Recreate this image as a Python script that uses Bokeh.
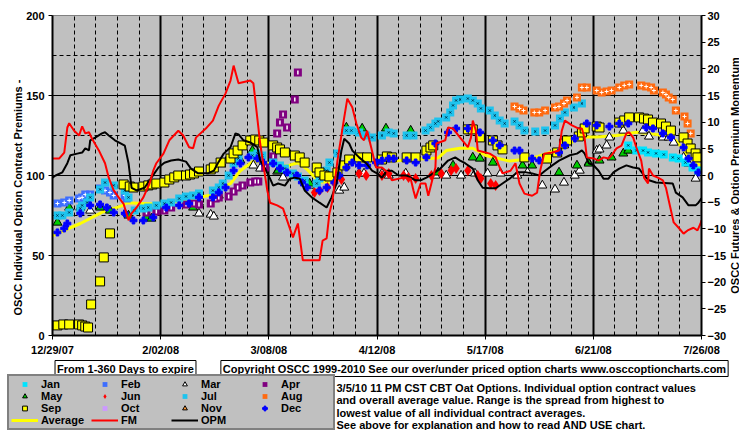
import math
from bokeh.plotting import figure
from bokeh.models import Range1d, LinearAxis, FixedTicker, Legend, LegendItem, Label, ColumnDataSource
from bokeh.layouts import row
from bokeh.embed import file_html
from bokeh.resources import INLINE

# ---------------- data (x = days from 12/29/07) ----------------
date_ticks = [0, 35, 70, 105, 140, 175, 210]
date_labels = ["12/29/07", "2/02/08", "3/08/08", "4/12/08", "5/17/08", "6/21/08", "7/26/08"]
week_ticks = [7, 14, 21, 28, 42, 49, 56, 63, 77, 84, 91, 98, 112, 119, 126, 133,
              147, 154, 161, 168, 182, 189, 196, 203]
prem_ticks = [0, 50, 100, 150, 200]
prem_minor = [25, 75, 125, 175]
mom_ticks = [-30, -25, -20, -15, -10, -5, 0, 5, 10, 15, 20, 25, 30]

jan_day = [186.3, 188.9, 191.1, 192.7, 195.3, 197.8, 200.7, 202.6, 204.8, 207.1, 209.0]
jan_val = [118.8, 115.6, 115.6, 114.4, 113.8, 113.1, 111.3, 110.6, 108.1, 105, 103.1]

feb_day = [1.6, 3.8, 5.4, 8.6, 9.6, 10.6, 12.2, 15.4, 17.0, 18.6, 19.8, 23.4, 24.0]
feb_val = [82.5, 83.1, 84.4, 85.6, 86.3, 88.1, 88.1, 91.9, 90.6, 89.4, 87.5, 87.5, 85.6]

mar_day = [12.2, 47.4, 51.2, 52.2, 65.0, 67.2, 72.7, 74.6, 83.2, 92.8, 94.4, 99.2, 100.8, 106.6, 108.8,
           114.3, 123.9, 127.4, 132.2, 136.7, 140.8, 145.0, 150.4, 153.7, 158.5, 162.6, 165.5, 169.0,
           170.6, 173.5, 176.1, 177.0, 179.3, 180.2, 184.7, 191.1, 193.0, 197.5, 199.4, 201.0, 204.2,
           205.8, 208.1]
mar_val = [78.1, 76.3, 75.6, 74.4, 106.3, 104.4, 102.5, 98.8, 93.8, 90.6, 92.5, 101.3, 101.3, 101.3, 100,
           101.3, 100, 100, 100, 101.3, 101.3, 101.3, 100, 101.9, 93.8, 91.3, 95.6, 100,
           103.1, 108.1, 115.6, 116.3, 118.8, 123.8, 128.1, 128.1, 124.4, 123.8, 123.8, 120.6, 111.3,
           107.5, 98.1]

apr_day = [30.4, 33.6, 36.2, 38.4, 43.2, 45.8, 47.4, 51.2, 52.8, 53.8, 57.0, 58.6, 59.9, 61.5, 64.0,
           65.6, 66.6, 68.8, 71.4, 72.7, 73.6, 74.6, 75.9, 78.4, 79.4]
apr_val = [76.9, 77.5, 78.1, 80, 81.9, 82.5, 81.9, 82.5, 85.6, 86.3, 86.9, 90, 92.5, 93.8, 95.6,
           96.3, 96.3, 105, 111.9, 126.3, 133.1, 138.1, 130, 147.5, 164.4]

may_day = [1.6, 5.4, 9.0, 15.4, 18.6, 24.6, 30.4, 32.0, 45.5, 47.4, 53.8, 60.8, 64.7, 73.0, 83.2,
           95.1, 100.2, 107.9, 115.9, 124.8, 129.6, 136.0, 138.3, 142.5, 152.1, 155.2, 163.9, 169.7,
           173.5, 177.0, 180.9, 184.7, 186.3]
may_val = [70.6, 80, 80, 80, 78.1, 75, 73.8, 73.1, 80, 83.1, 87.5, 109.4, 115.6, 103.1, 95,
           130, 129.4, 129.4, 128.1, 101.9, 106.3, 111.3, 110.6, 108.1, 106.3, 106.3, 101.9, 106.3,
           107.5, 109.4, 111.3, 113.8, 115.6]

jun_day = [84.8, 86.4, 89.0, 91.2, 93.5, 99.2, 101.5, 106.6, 108.8, 113.6, 115.2, 117.5, 122.6, 125.8,
           129.0, 130.6, 134.4, 137.6, 138.6, 141.8, 143.4]
jun_val = [89.4, 90.6, 92.5, 95.6, 97.5, 101.3, 100, 100, 101.3, 100, 98.8, 98.1, 100, 101.3,
           103.1, 104.4, 103.1, 100, 98.1, 95, 93.8]

jul_day = [1.6, 3.2, 5.4, 9.0, 9.6, 11.2, 12.2, 15.4, 17.0, 19.8, 23.4, 24.6, 26.6, 29.4, 31.0,
           33.6, 36.2, 38.4, 41.0, 43.2, 45.5, 47.4, 51.9, 53.8, 55.1, 57.0, 58.6, 60.2, 64.7, 66.3,
           67.9, 71.4, 73.6, 75.2, 77.8, 79.4, 81.6, 85.5, 86.4, 88.7, 89.6, 92.2, 95.1, 96.7, 99.2,
           101.5, 103.4, 106.6, 108.8, 110.4, 114.6, 116.8, 120.7, 122.3, 123.9, 124.8, 127.4, 128.7,
           129.6, 130.6, 131.9, 134.4, 136.0, 137.6, 138.6, 141.5, 143.1, 144.7, 146.3, 149.5, 151.1,
           152.7, 156.2, 159.4, 162.6, 164.2, 165.8, 168.7, 171.3]
jul_val = [75, 75, 76.9, 79.4, 81.3, 83.1, 86.3, 91.3, 95.6, 93.8, 90.6, 86.3, 78.1, 79.4, 80,
           81.3, 82.5, 83.1, 85.6, 86.9, 87.5, 88.8, 90.6, 92.5, 95, 100, 107.5, 110.6, 112.5, 113.8,
           112.5, 108.1, 106.3, 104.4, 101.3, 99.4, 96.9, 95, 98.1, 103.1, 108.1, 113.8, 128.1, 128.1,
           126.9, 125, 123.8, 125, 126.9, 126.3, 125, 125, 128.1, 130, 132.5, 133.8, 136.3, 139.4,
           143.8, 146.9, 147.5, 148.1, 146.9, 145, 141.9, 140.6, 137.5, 134.4, 132.5, 133.8, 131.3,
           128.1, 127.5, 128.1, 131.3, 135.6, 139.4, 142.5, 145]

aug_day = [149.5, 151.1, 152.4, 155.9, 157.5, 159.4, 162.6, 163.9, 165.5, 166.5, 169.7, 171.3, 172.9,
           176.1, 177.7, 179.3, 180.9, 183.4, 185.0, 186.6, 190.5, 192.1, 193.7, 194.6, 197.5, 198.5,
           199.4, 200.7, 201.7, 204.5, 205.5, 206.5]
aug_val = [143.1, 141.9, 140.6, 139.4, 139.4, 140.6, 142.5, 143.1, 145, 146.9, 148.8, 155, 155,
           153.1, 151.9, 152.5, 153.1, 155, 156.3, 156.9, 156.3, 155.6, 155, 153.1, 151.9, 150.6,
           148.8, 147.5, 140.6, 136.9, 132.5, 126.3]

sep_day = [1.6, 3.5, 5.4, 8.6, 9.6, 10.6, 11.5, 12.5, 15.4, 16.6, 18.6, 23.0, 25.0, 26.2, 29.4,
           31.0, 32.3, 33.6, 36.2, 37.8, 39.4, 40.7, 43.2, 44.5, 45.8, 47.4, 51.2, 52.2, 54.4, 57.6,
           58.6, 59.9, 61.5, 64.0, 65.6, 66.9, 68.2, 71.4, 72.7, 73.6, 75.2, 78.4, 80.0, 81.6, 85.5,
           86.4, 88.0, 89.6, 92.2, 94.4, 96.0, 99.2, 101.8, 106.6, 108.2, 109.8, 114.6, 117.5, 121.0,
           122.3, 123.2, 134.4, 136.0, 138.3, 142.5, 144.0, 145.6, 152.7, 160.0, 163.3, 165.5, 166.5,
           170.3, 171.3, 172.2, 176.1, 177.0, 183.4, 185.0, 186.6, 189.8, 191.4, 192.7, 194.3, 196.9,
           198.5, 200.1, 204.2, 205.5, 206.5, 208.1, 208.7]
sep_val = [6.3, 6.9, 6.9, 6.9, 6.3, 5.6, 5, 19.4, 33.8, 48.8, 63.8, 94.4, 93.1, 92.5, 93.1,
           93.8, 94.4, 95, 95.6, 97.5, 98.8, 100, 100, 100.6, 101.3, 102.5, 103.8, 105, 108.1, 110.6,
           113.8, 115.6, 118.8, 121.9, 122.5, 121.9, 120.6, 118.8, 117.5, 116.3, 114.4, 112.5, 111.3,
           108.1, 105, 101.9, 100, 99.4, 101.9, 106.3, 110, 111.3, 111.3, 110, 111.9, 111.3, 111.3,
           111.3, 115.6, 117.5, 118.8, 128.8, 128.8, 123.8, 121.9, 118.8, 116.3, 111.3, 110.6, 114.4,
           120, 121.9, 124.4, 126.9, 129.4, 130.6, 130, 133.1, 134.4, 136.3, 136.3, 135.6, 135, 133.1,
           132.5, 130.6, 128.1, 123.8, 120, 116.9, 113.8, 111.3]

oct_day = []
oct_val = []
nov_day = []
nov_val = []

dec_day = [1.6, 3.8, 4.8, 9.0, 12.2, 15.4, 17.6, 19.8, 23.4, 26.2, 29.4, 32.6, 36.8, 41.0, 44.2,
           47.4, 51.9, 53.8, 56.0, 58.6, 60.8, 63.4, 66.3, 68.2, 71.4, 73.6, 75.9, 79.1, 80.7, 82.3,
           86.4, 88.7, 91.2, 92.8, 95.1, 97.0, 99.2, 101.8, 104.7, 106.6, 108.8, 110.4, 114.6, 117.5,
           121.0, 123.9, 128.0, 130.6, 134.4, 138.3, 142.5, 144.7, 149.5, 151.1, 155.2, 157.5, 163.9,
           165.8, 169.0, 172.9, 176.1, 180.2, 183.4, 186.3, 192.1, 194.3, 197.5, 200.1, 204.2, 205.8,
           207.4, 209.0]
dec_val = [64.4, 66.9, 70, 76.3, 81.3, 81.9, 80, 76.9, 76.3, 71.9, 71.9, 73.8, 80, 81.3, 82.5,
           86.3, 86.3, 89.4, 92.5, 103.1, 107.5, 111.3, 110.6, 108.1, 107.5, 104.4, 101.9, 100, 95.6,
           92.5, 90.6, 92.5, 95.6, 100, 105, 108.1, 106.3, 106.3, 108.1, 109.4, 110.6, 110.6, 109.4,
           108.1, 111.3, 120, 126.9, 129.4, 129.4, 126.9, 121.9, 118.8, 115.6, 115.6, 110.6, 109.4,
           114.4, 118.8, 123.1, 132.5, 131.3, 130.6, 132.5, 132.5, 130, 129.4, 126.3, 123.8, 117.5,
           110.6, 106.3, 101.9]

avg_day = [0, 9, 16, 22.4, 24, 34.6, 50.6, 54.4, 57.6, 60.8, 65, 70.4, 75.9, 79.4, 82.3, 86.4, 89.6,
           92.8, 95.1, 99.2, 110.4, 121, 124.8, 127.4, 131.9, 136, 140.2, 147.9, 155.2, 160, 165.5,
           169, 172.2, 176.1, 182.5, 188.9, 194.3, 197.5, 201.7, 204.9, 208.1, 210]
avg_val = [62.5, 70, 77, 81, 83, 82, 87.5, 92, 95, 103, 109, 107.5, 106, 108, 104, 96, 96,
           103, 107.5, 109, 109, 110.6, 111, 115.6, 117, 117, 112.5, 109, 110.6, 113.8, 117.5,
           122, 124, 124, 125, 127, 126, 125, 122, 114, 108, 106]

# momentum series (right axis units)
fm_day = [0, 2.2, 3.8, 4.8, 5.4, 7.0, 8.6, 9.6, 10.6, 11.8, 12.8, 15.0, 17.0, 18.2, 19.8, 21.4, 23.0,
          24.6, 25.6, 27.2, 29.4, 31.4, 32.6, 33.6, 35.9, 37.8, 40.7, 42.3, 44.2, 45.5, 46.4, 49.6,
          51.9, 53.8, 56.0, 57.6, 58.6, 60.2, 64.0, 65.0, 67.2, 69.5, 70.4, 72.7, 74.6, 77.8, 79.4,
          81.0, 86.4, 87.4, 88.7, 89.6, 90.6, 92.2, 94.4, 95.4, 97.0, 98.3, 99.9, 100.8, 101.8, 103.1,
          104.7, 106.6, 108.8, 109.8, 113.6, 115.9, 116.8, 117.5, 119.1, 120.7, 121.6, 123.9, 124.2,
          127.1, 128.0, 129.6, 131.9, 134.4, 135.4, 136.0, 137.0, 137.6, 141.5, 143.4, 144.7, 145.6,
          148.2, 149.8, 151.1, 152.7, 155.2, 156.8, 157.8, 159.1, 161.7, 163.9, 164.8, 165.8, 168.1,
          170.3, 171.3, 172.2, 172.9, 175.1, 176.7, 178.3, 179.9, 180.9, 182.5, 184.1, 185.7, 186.6,
          187.9, 188.9, 190.5, 191.4, 192.7, 193.0, 194.3, 195.9, 197.5, 198.5, 199.4, 201.0, 202.6,
          204.2, 205.5, 207.4, 208.7, 209.7, 210]
fm_val = [3.2, 3.2, 4.3, 9.0, 9.8, 8.4, 7.5, 9.2, 7.9, 8.1, 6.9, 4.7, 2.3, -0.4, -2.8, -4.1, -5.3,
          -8.4, -7.1, -6.0, -4.1, -1.5, 0.9, 2.3, 4.1, 6.6, 8.4, 7.5, 5.3, 5.1, 7.1, 8.8,
          10.3, 13.1, 15.4, 17.8, 20.6, 17.3, 17.8, 17.3, 6.0, -2.8, -5.1, -5.6, -6.2, -11.6, -9.0,
          -15.9, -15.9, -12.2, -11.8, -7.1, -4.7, 2.8, 10.9, 14.4, 12.8, 9.8, 7.1, 6.6, 8.4, 5.3,
          1.5, 1.5, 0.4, -0.9, -0.4, -0.6, -2.8, -4.3, -1.5, -1.5, -3.8, 1.5, 6.0,
          6.6, 9.0, 8.8, 7.1, 5.3, 7.1, 10.3, 8.4, 4.7, 4.1, 3.4, 1.5, 0.4,
          0.9, 2.3, -1.5, -3.4, -3.8, -3.2, 0.9, 4.1, 4.3, 4.7, 8.4, 10.3, 9.4,
          8.8, 8.8, 6.9, 3.4, 3.2, 2.8, 3.4, 3.2, 3.8, 5.1, 5.6, 7.9, 8.1,
          7.1, 5.3, 2.8, -0.4, -1.5, 1.3, 0.0, -0.4, -0.9, -2.3, -4.7, -8.8, -9.8,
          -10.9, -10.3, -9.8, -10.3, -9.0, -8.4]

opm_day = [0, 1.0, 3.2, 4.8, 5.8, 8.0, 9.6, 10.6, 11.8, 12.2, 13.8, 16.0, 17.0, 18.2, 20.2, 23.4,
           24.6, 25.6, 27.2, 29.8, 32.0, 34.3, 36.2, 38.4, 40.7, 43.2, 44.8, 47.1, 50.3, 52.2, 53.5,
           55.4, 57.6, 59.2, 60.2, 61.8, 64.0, 66.3, 67.2, 68.8, 70.4, 71.4, 73.0, 75.2, 76.8, 78.4,
           80.0, 81.6, 83.9, 86.4, 88.7, 90.3, 91.9, 93.5, 94.4, 96.0, 97.0, 99.2, 101.5, 103.4,
           105.0, 106.6, 108.2, 109.8, 112.0, 114.6, 117.5, 119.1, 121.0, 123.2, 125.5, 128.0, 130.3,
           131.9, 133.5, 136.0, 137.6, 139.2, 141.5, 143.4, 145.6, 147.9, 150.4, 153.0, 155.2, 157.5,
           159.4, 161.7, 163.9, 167.4, 169.7, 171.3, 172.2, 173.5, 175.1, 176.7, 178.3, 179.9, 181.5,
           183.4, 185.7, 187.9, 189.8, 191.4, 193.0, 195.3, 200.7, 201.7, 203.9, 205.8, 208.1, 209.0,
           210]
opm_val = [-0.4, 0, 0.6, 2.3, 3.8, 4.1, 4.3, 5.1, 4.7, 6.6, 7.1, 7.9, 8.1, 7.5, 6.6, 5.6,
           2.3, -2.3, -2.8, -2.3, -0.4, 1.5, 2.4, 2.8, 3.0, 2.6, 1.3, 0.4, 0.4, 0.9, 2.3,
           4.1, 5.3, 7.9, 7.7, 6.6, 6.2, 5.3, 2.8, 1.3, -0.6, -1.9, -1.5, -1.9, -0.6, -0.4,
           -0.6, -2.8, -4.1, -5.1, -6.0, -4.1, -1.5, 4.7, 6.9, 6.0, 4.7, 3.4, 2.3, 0.9,
           0.4, -0.4, 0.9, 0.9, 0, 0, -0.9, -0.9, -0.4, 0.4, 1.3, 2.8, 3.4,
           2.8, 2.3, 1.3, -0.9, -2.3, -2.4, -2.4, -1.5, -0.6, 0.6, 0.6, 0.4, 0,
           0.9, 1.9, 2.8, 3.8, 4.1, 4.7, 4.1, 2.3, 1.9, 0.9, -0.6, -0.6, 0.6,
           1.3, 1.9, 1.5, 1.3, 0, -0.9, -1.3, -1.5, -3.2, -4.1, -5.6, -5.6, -5.1,
           -4.3]

series_names = ["Jan", "Feb", "Mar", "Apr", "May", "Jun", "Jul", "Aug", "Sep", "Oct", "Nov", "Dec"]
series_data = {
    "Jan": (jan_day, jan_val), "Feb": (feb_day, feb_val), "Mar": (mar_day, mar_val),
    "Apr": (apr_day, apr_val), "May": (may_day, may_val), "Jun": (jun_day, jun_val),
    "Jul": (jul_day, jul_val), "Aug": (aug_day, aug_val), "Sep": (sep_day, sep_val),
    "Oct": (oct_day, oct_val), "Nov": (nov_day, nov_val), "Dec": (dec_day, dec_val),
}

box1_text = "From 1-360 Days to expire"
box2_text = "Copyright OSCC 1999-2010 See our over/under priced option charts www.osccoptioncharts.com"
note_lines = [
    "3/5/10 11 PM CST CBT Oat Options. Individual option contract values",
    "and overall average value. Range is the spread from highest to",
    "lowest value of all individual contract averages.",
    " See above for explanation and how to read AND USE chart.",
]
left_title = "OSCC Individual Option Contract Premiums -"
right_title = "OSCC Futures & Option Premium Momentum"

# ---------------- styles ----------------
FONT = "Liberation Sans"
DARKX = "#003048"
STYLE = {
    "Jan": [dict(marker="square", size=8, fill_color="#00E4FF", line_color=None),
            dict(marker="x", size=3, line_color=DARKX, line_width=1)],
    "Feb": [dict(marker="square", size=8, fill_color="#3D6EFF", line_color=None),
            dict(marker="cross", size=4, line_color="white", line_width=1)],
    "Mar": [dict(marker="triangle", size=9, fill_color="white", line_color="black", line_width=1)],
    "Apr": [dict(marker="square", size=8, fill_color="#800080", line_color=None),
            dict(marker="dash", size=4, angle=math.pi / 2, line_color="white", line_width=1.5)],
    "May": [dict(marker="triangle", size=9, fill_color="#00CC00", line_color="black", line_width=1)],
    "Jun": [dict(marker="diamond", size=11, fill_color="#FF0000", line_color=None)],
    "Jul": [dict(marker="square", size=8, fill_color="#1EC3EE", line_color=None),
            dict(marker="x", size=3, line_color=DARKX, line_width=1)],
    "Aug": [dict(marker="square", size=8, fill_color="#FF6A10", line_color=None),
            dict(marker="cross", size=4, line_color="white", line_width=1)],
    "Sep": [dict(marker="square", size=9, fill_color="#FFFF00", line_color="black", line_width=1)],
    "Oct": [dict(marker="square", size=8, fill_color="#CC99FF", line_color=None),
            dict(marker="cross", size=4, line_color="#330066", line_width=1)],
    "Nov": [dict(marker="triangle", size=9, fill_color="#FF9933", line_color="black", line_width=1)],
    "Dec": [dict(marker="plus", size=7, fill_color="#0000FF", line_color="#0000FF")],
}
LINE_STYLE = {
    "Average": dict(line_color="#FFFF00", line_width=3),
    "FM": dict(line_color="#FF0000", line_width=2),
    "OPM": dict(line_color="#000000", line_width=2),
}

TOP, BOTTOM = 15, 23
H_MAIN = 358
TEXT_KW = dict(text_font=FONT, text_font_size="11px", text_font_style="bold", text_color="black")

# ---------------- left-hand axis title ----------------
lft = figure(width=23, height=H_MAIN, x_range=Range1d(0, 23), y_range=Range1d(0, 1),
             x_axis_type=None, y_axis_type=None, output_backend="svg", toolbar_location=None,
             min_border_left=0, min_border_right=0, min_border_top=TOP, min_border_bottom=BOTTOM,
             outline_line_color=None, background_fill_color="white", border_fill_color="white")
lft.add_layout(Label(x=17, y=0.431, text=left_title, angle=math.pi / 2, text_align="center",
                     text_baseline="middle", **TEXT_KW))

# ---------------- main chart ----------------
p = figure(width=706, height=H_MAIN, x_range=Range1d(0, 210), y_range=Range1d(0, 200),
           output_backend="svg", toolbar_location=None,
           min_border_left=27, min_border_right=23, min_border_top=TOP, min_border_bottom=BOTTOM,
           background_fill_color="#C0C0C0", border_fill_color="white",
           outline_line_color="#808080", outline_line_width=1)
p.extra_y_ranges = {"mom": Range1d(-30, 30)}


def style_axis(ax):
    ax.axis_line_color = "black"
    ax.axis_line_width = 2
    ax.major_tick_line_color = "black"
    ax.major_tick_line_width = 1
    ax.major_tick_in = 0
    ax.major_tick_out = 4
    ax.minor_tick_line_color = None
    ax.major_label_text_font = FONT
    ax.major_label_text_font_size = "11px"
    ax.major_label_text_font_style = "bold"
    ax.major_label_text_color = "black"


xa = p.xaxis[0]
xa.ticker = FixedTicker(ticks=date_ticks, minor_ticks=[])
xa.major_label_overrides = {d: l for d, l in zip(date_ticks, date_labels)}
style_axis(xa)
xa.major_label_standoff = 4

ya = p.yaxis[0]
ya.ticker = FixedTicker(ticks=prem_ticks, minor_ticks=[])
style_axis(ya)
ya.major_label_standoff = 4

ra = LinearAxis(y_range_name="mom", ticker=FixedTicker(ticks=mom_ticks, minor_ticks=[]))
style_axis(ra)
ra.major_label_standoff = 2
p.add_layout(ra, "right")

p.xgrid.ticker = FixedTicker(ticks=date_ticks, minor_ticks=week_ticks)
p.xgrid.grid_line_color = "black"
p.xgrid.grid_line_width = 2
p.xgrid.minor_grid_line_color = "black"
p.xgrid.minor_grid_line_width = 1
p.xgrid.minor_grid_line_dash = "4 3"
p.ygrid.ticker = FixedTicker(ticks=prem_ticks, minor_ticks=prem_minor)
p.ygrid.grid_line_color = "black"
p.ygrid.grid_line_width = 1
p.ygrid.minor_grid_line_color = "black"
p.ygrid.minor_grid_line_width = 1
p.ygrid.minor_grid_line_dash = "4 3"

p.line(avg_day, avg_val, **LINE_STYLE["Average"])
draw_order = ["Mar", "May", "Apr", "Jun", "Feb", "Jan", "Jul", "Aug", "Sep", "Oct", "Nov", "Dec"]
for name in draw_order:
    d, v = series_data[name]
    src = ColumnDataSource(dict(x=d, y=v))
    for layer in STYLE[name]:
        p.scatter("x", "y", source=src, **layer)
p.line(opm_day, opm_val, y_range_name="mom", **LINE_STYLE["OPM"])
p.line(fm_day, fm_val, y_range_name="mom", **LINE_STYLE["FM"])

# ---------------- right-hand axis title (reads bottom to top) ----------------
t = figure(width=10, height=H_MAIN, x_range=Range1d(0, 1), y_range=Range1d(0, 1),
           x_axis_type=None, y_axis_type=None, output_backend="svg", toolbar_location=None,
           min_border_left=0, min_border_right=0, min_border_top=TOP, min_border_bottom=BOTTOM,
           outline_line_color=None, background_fill_color="white", border_fill_color="white")
t.add_layout(Label(x=0.5, y=0.5, text=right_title, angle=math.pi / 2, text_align="center",
                   text_baseline="middle", **TEXT_KW))

# ---------------- bottom panel: boxes, legend, notes (units = pixels) ----------------
b = figure(width=739, height=72, x_range=Range1d(0, 739), y_range=Range1d(430, 358),
           x_axis_type=None, y_axis_type=None, output_backend="svg", toolbar_location=None,
           min_border=0, outline_line_color=None,
           background_fill_color="white", border_fill_color="white")

box_kw = dict(border_line_color="black", border_line_width=1, background_fill_color="white",
              text_baseline="middle", text_align="center", padding=2, **TEXT_KW)
b.add_layout(Label(x=125, y=368, text=box1_text, **box_kw))
b.add_layout(Label(x=474, y=368, text=box2_text, **box_kw))

for i, line in enumerate(note_lines):
    b.add_layout(Label(x=336, y=387 + 12.6 * i, text=line, text_baseline="middle",
                       text_align="left", **TEXT_KW))

items = []
for name in series_names:
    src = ColumnDataSource(dict(x=[float("nan")], y=[float("nan")]))   # legend swatch only
    r = b.scatter("x", "y", source=src, **STYLE[name][0])
    items.append(LegendItem(label=name, renderers=[r]))
for name in ["Average", "FM", "OPM"]:
    src = ColumnDataSource(dict(x=[float("nan")], y=[float("nan")]))
    r = b.line("x", "y", source=src, **LINE_STYLE[name])
    items.append(LegendItem(label=name, renderers=[r]))

legend = Legend(items=items, location=(7, 0), orientation="horizontal", ncols=4,
                padding=2, spacing=0, margin=0, glyph_width=27, glyph_height=12,
                label_standoff=3, label_width=50, label_height=11,
                label_text_font=FONT, label_text_font_size="11px", label_text_font_style="bold",
                label_text_color="black", background_fill_color="#C0C0C0", background_fill_alpha=1,
                border_line_color="#404040", border_line_width=2, click_policy="none")
b.add_layout(legend)

open("out.html", "w").write(file_html([row(lft, p, t), b], INLINE))
